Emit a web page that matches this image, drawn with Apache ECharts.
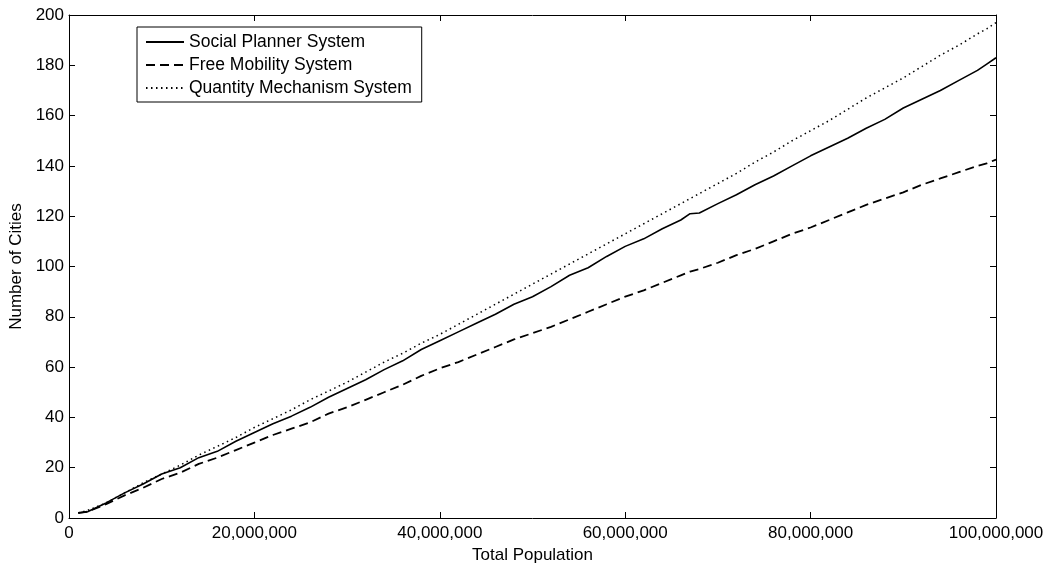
<!DOCTYPE html>
<html>
<head>
<meta charset="utf-8">
<script src="https://cdn.jsdelivr.net/npm/echarts@6/dist/echarts.min.js"></script>
<style>
  html, body { margin: 0; padding: 0; background: #fff; }
  #chart { width: 1055px; height: 564px; }
</style>
</head>
<body>
<div id="chart"></div>
<script>
// Total population, in millions
const populationM = [1, 2, 4, 6, 8, 10, 12, 14, 16, 18, 20, 22, 24, 26, 28, 30, 32, 34, 36, 38, 40,
  42, 44, 46, 48, 50, 52, 54, 56, 58, 60, 62, 64, 66, 67, 68, 70, 72, 74, 76, 78, 80,
  82, 84, 86, 88, 90, 92, 94, 96, 98, 99, 100];

const socialPlanner = [2, 2.5, 6, 10, 13.5, 17.5, 20, 24, 26.5, 30.5, 34, 37.5, 40.5, 44, 48, 51.5, 55, 59, 62.5, 67, 70.5,
  74, 77.5, 81, 85, 88, 92, 96.5, 99.5, 104, 108, 111, 115, 118.5, 121, 121.3, 125, 128.5, 132.5, 136, 140, 144,
  147.5, 151, 155, 158.5, 163, 166.5, 170, 174, 178, 180.5, 183];

const freeMobility = [2, 2.5, 5.5, 9, 12, 15.5, 18, 21.5, 24, 27, 30, 33, 35.5, 38, 41.5, 44, 47, 50, 53, 56.5, 59.5,
  62, 65, 68, 71, 73.5, 76, 79, 82, 85, 88, 90.5, 93.5, 96.5, 98, 99, 101.5, 104.5, 107, 110, 113, 115.5,
  118.5, 121.5, 124.5, 127, 129.5, 132.5, 135, 137.5, 140, 141, 142.5];

const quantityMechanism = [2, 3, 6, 10, 14, 17.5, 21, 25, 28.5, 32, 36, 39.5, 43, 47, 50.5, 54, 58, 62, 65.5, 69.5, 73,
  77, 81, 85, 89, 93, 97, 101, 105, 109, 113, 117, 121, 125, 127, 129, 133, 137, 141.5, 145.5, 150, 154,
  158, 162.5, 167, 171, 175, 179.5, 184, 188, 192.5, 194.5, 197];

const seriesNames = ['Social Planner System', 'Free Mobility System', 'Quantity Mechanism System'];

const pair = (vals) => populationM.map((p, i) => [p * 1e6, vals[i]]);
const fmt = (v) => String(Math.round(v)).replace(/\B(?=(\d{3})+(?!\d))/g, ',');

const font = 'Liberation Sans, Arial, sans-serif';
const axisLine = { show: true, onZero: false, lineStyle: { color: '#000', width: 1 } };
const tickIn = { show: true, inside: true, length: 6, lineStyle: { color: '#000' } };

const chart = echarts.init(document.getElementById('chart'), null, { renderer: 'canvas' });
chart.setOption({
  animation: false,
  backgroundColor: '#fff',
  grid: { left: 69, right: 59, top: 15, bottom: 46, containLabel: false, outerBoundsMode: 'none' },
  legend: {
    orient: 'vertical',
    left: 137,
    top: 27,
    data: seriesNames,
    itemWidth: 38,
    itemHeight: 14,
    itemGap: 5,
    padding: [6, 10, 5, 8],
    borderColor: '#000',
    borderWidth: 1,
    borderRadius: 0,
    backgroundColor: '#fff',
    itemStyle: { opacity: 0 },
    textStyle: { fontFamily: font, fontSize: 17.5, color: '#000', lineHeight: 17 }
  },
  xAxis: [{
    type: 'value', min: 0, max: 1e8, interval: 2e7,
    name: 'Total Population', nameLocation: 'middle', nameGap: 25,
    nameTextStyle: { fontFamily: font, fontSize: 17, color: '#000' },
    axisLine, axisTick: tickIn, splitLine: { show: false },
    axisLabel: { formatter: fmt, fontFamily: font, fontSize: 17, color: '#000', margin: 7 }
  }, {
    type: 'value', min: 0, max: 1e8, interval: 2e7, position: 'top',
    axisLine, axisTick: tickIn, splitLine: { show: false }, axisLabel: { show: false }
  }],
  yAxis: [{
    type: 'value', min: 0, max: 200, interval: 20,
    name: 'Number of Cities', nameLocation: 'middle', nameGap: 41,
    nameTextStyle: { fontFamily: font, fontSize: 17, color: '#000' },
    axisLine, axisTick: tickIn, splitLine: { show: false },
    axisLabel: { fontFamily: font, fontSize: 17, color: '#000', margin: 5 }
  }, {
    type: 'value', min: 0, max: 200, interval: 20, position: 'right',
    axisLine, axisTick: tickIn, splitLine: { show: false }, axisLabel: { show: false }
  }],
  series: [
    { name: seriesNames[0], type: 'line', data: pair(socialPlanner), symbol: 'none',
      lineStyle: { color: '#000', width: 1.6, type: 'solid' }, itemStyle: { color: '#000' } },
    { name: seriesNames[1], type: 'line', data: pair(freeMobility), symbol: 'none',
      lineStyle: { color: '#000', width: 1.8, type: [9, 5] }, itemStyle: { color: '#000' } },
    { name: seriesNames[2], type: 'line', data: pair(quantityMechanism), symbol: 'none',
      lineStyle: { color: '#000', width: 1.5, type: [1.5, 3.5] }, itemStyle: { color: '#000' } }
  ]
});
</script>
</body>
</html>
